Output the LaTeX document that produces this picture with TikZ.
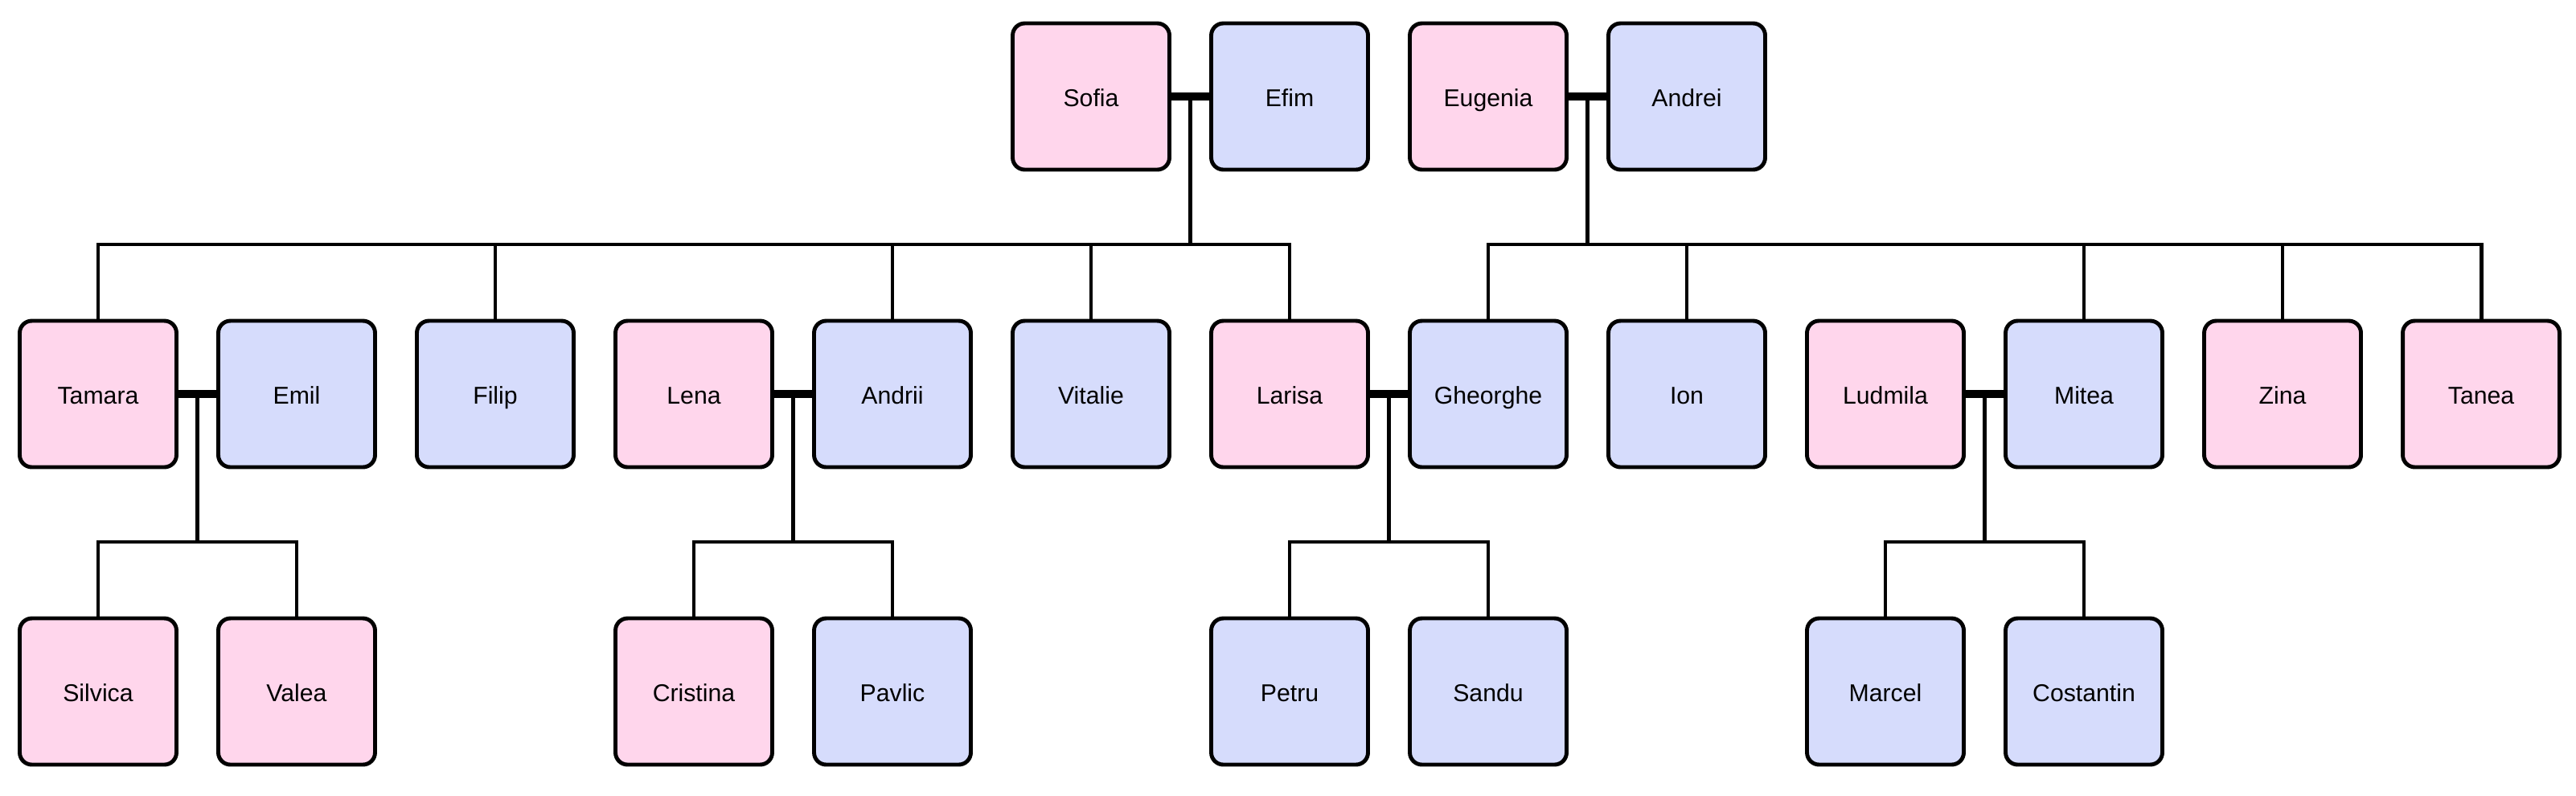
\documentclass[tikz,border=0pt]{standalone}
\usepackage{fontspec}
\setmainfont{Liberation Sans}
\usetikzlibrary{positioning}
\definecolor{girlpink}{RGB}{255,214,236}
\definecolor{boyblue}{RGB}{214,220,252}
\tikzset{
    person/.style={draw, line width=1.4pt, rounded corners=4.3pt, minimum width=1.95cm, minimum height=1.82cm, outer sep=0pt, text height=0.72em, text depth=0em, font=\fontsize{8.6}{10}\selectfont},
    girl/.style={person, fill=girlpink},
    boy/.style={person, fill=boyblue},
    couple/.style={line width=2.6pt},
    kin/.style={line width=1.4pt},
}

\begin{document}
\begin{tikzpicture}
    \useasboundingbox (0,0) rectangle (32.04,-9.89);
    % Children and their partners
    \node (Tamara) [girl] at (1.22,-4.90) {Tamara};
    \node (Emil) [boy, right=0.52cm of Tamara] {Emil};
    \node (Filip) [boy, right=0.52cm of Emil] {Filip};
    \node (Lena) [girl, right=0.52cm of Filip] {Lena};
    \node (Andrii) [boy, right=0.52cm of Lena] {Andrii};
    \node (Vitalie) [boy, right=0.52cm of Andrii] {Vitalie};
    \node (Larisa) [girl, right=0.52cm of Vitalie] {Larisa};
    \node (Gheorghe) [boy, right=0.52cm of Larisa] {Gheorghe};
    \node (Ion) [boy, right=0.52cm of Gheorghe] {Ion};
    \node (Ludmila) [girl, right=0.52cm of Ion] {Ludmila};
    \node (Mitea) [boy, right=0.52cm of Ludmila] {Mitea};
    \node (Zina) [girl, right=0.52cm of Mitea] {Zina};
    \node (Tanea) [girl, right=0.52cm of Zina] {Tanea};
    % Grandparents
    \node (Sofia) [girl, above=1.88cm of Vitalie] {Sofia};
    \node (Efim) [boy, above=1.88cm of Larisa] {Efim};
    \node (Eugenia) [girl, above=1.88cm of Gheorghe] {Eugenia};
    \node (Andrei) [boy, above=1.88cm of Ion] {Andrei};
    % Grandchildren
    \node (Silvica) [girl, below=1.88cm of Tamara] {Silvica};
    \node (Valea) [girl, below=1.88cm of Emil] {Valea};
    \node (Cristina) [girl, below=1.88cm of Lena] {Cristina};
    \node (Pavlic) [boy, below=1.88cm of Andrii] {Pavlic};
    \node (Petru) [boy, below=1.88cm of Larisa] {Petru};
    \node (Sandu) [boy, below=1.88cm of Gheorghe] {Sandu};
    \node (Marcel) [boy, below=1.88cm of Ludmila] {Marcel};
    \node (Costantin) [boy, below=1.88cm of Mitea] {Costantin};
    % Marriages
    \draw [couple] (Sofia) -- (Efim) coordinate [midway] (SE);
    \draw [couple] (Eugenia) -- (Andrei) coordinate [midway] (EA);
    \draw [couple] (Tamara) -- (Emil) coordinate [midway] (TE);
    \draw [couple] (Lena) -- (Andrii) coordinate [midway] (LA);
    \draw [couple] (Larisa) -- (Gheorghe) coordinate [midway] (LG);
    \draw [couple] (Ludmila) -- (Mitea) coordinate [midway] (LM);
    % Sofia and Efim's children
    \draw [kin] (Tamara.north) -- ++(0,0.95) coordinate (busSE) -| (Larisa.north);
    \draw [kin] (SE) -- (SE |- busSE);
    \draw [kin] (busSE -| Filip) -- (Filip.north);
    \draw [kin] (busSE -| Andrii) -- (Andrii.north);
    \draw [kin] (busSE -| Vitalie) -- (Vitalie.north);
    % Eugenia and Andrei's children
    \draw [kin] (Gheorghe.north) -- ++(0,0.95) coordinate (busEA) -| (Tanea.north);
    \draw [kin] (EA) -- (EA |- busEA);
    \draw [kin] (busEA -| Ion) -- (Ion.north);
    \draw [kin] (busEA -| Mitea) -- (Mitea.north);
    \draw [kin] (busEA -| Zina) -- (Zina.north);
    % Grandchildren
    \draw [kin] (Silvica.north) -- ++(0,0.95) coordinate (busTE) -| (Valea.north);
    \draw [kin] (TE) -- (TE |- busTE);
    \draw [kin] (Cristina.north) -- ++(0,0.95) coordinate (busLA) -| (Pavlic.north);
    \draw [kin] (LA) -- (LA |- busLA);
    \draw [kin] (Petru.north) -- ++(0,0.95) coordinate (busLG) -| (Sandu.north);
    \draw [kin] (LG) -- (LG |- busLG);
    \draw [kin] (Marcel.north) -- ++(0,0.95) coordinate (busLM) -| (Costantin.north);
    \draw [kin] (LM) -- (LM |- busLM);
\end{tikzpicture}
\end{document}
